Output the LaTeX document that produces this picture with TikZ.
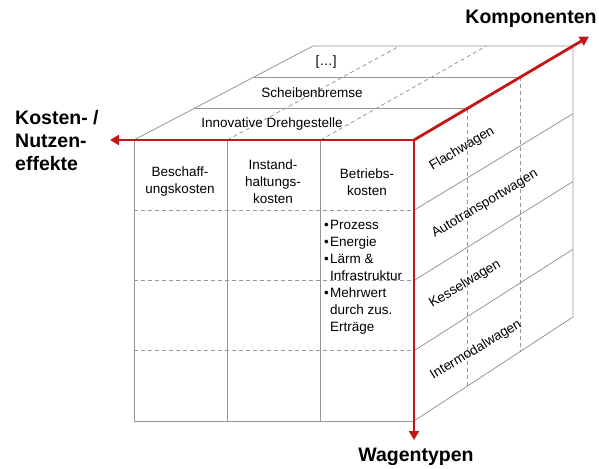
\documentclass[tikz,border=0pt]{standalone}
\usepackage{fontspec}
\setmainfont{Liberation Sans}
\usetikzlibrary{calc,arrows.meta}
\definecolor{achsrot}{RGB}{196,22,22}
\definecolor{kantengrau}{RGB}{150,150,150}
\tikzset{
  spitze/.tip={Triangle[length=9pt,width=10pt]},
  kante/.style={draw=kantengrau,line width=0.8pt},
  teil/.style={draw=kantengrau,line width=0.8pt,dash pattern=on 4pt off 3pt},
  achse/.style={draw=achsrot,line width=2.8pt},
  txt/.style={font=\fontsize{13.5}{17}\selectfont,inner sep=0pt},
  titel/.style={font=\bfseries\fontsize{19.5}{23}\selectfont,inner sep=0pt},
}
\begin{document}
\begin{tikzpicture}[x=1pt,y=-1pt]
\useasboundingbox (0,0) rectangle (599,468);
\coordinate (A) at (134,140);
\coordinate (B) at (414,140);
\coordinate (C) at (573,46);
\coordinate (D) at (313,46);
\coordinate (E) at (134,421);
\coordinate (F) at (414,421);
\coordinate (G) at (573,317);
\coordinate (links) at (110,140);
\coordinate (unten) at (414,440);
\coordinate (hinten) at ($(B)!1.1!(C)$);
% Deckflaeche
\draw[kante] (A)--(D)--(C)--(B)--cycle;
\foreach \t in {1/3,2/3}{
  \draw[kante] ($(A)!\t!(D)$)--($(B)!\t!(C)$);
  \draw[teil] ($(A)!\t!(B)$)--($(D)!\t!(C)$);
}
% Vorderseite
\draw[kante] (A)--(E)--(F)--(B);
\foreach \t in {1/3,2/3}
  \draw[kante] ($(A)!\t!(B)$)--($(E)!\t!(F)$);
\foreach \t in {1/4,2/4,3/4}
  \draw[teil] ($(A)!\t!(E)$)--($(B)!\t!(F)$);
% Seitenflaeche
\draw[kante] (C)--(G)--(F);
\foreach \t in {1/4,2/4,3/4}
  \draw[kante] ($(B)!\t!(F)$)--($(C)!\t!(G)$);
\foreach \t in {1/3,2/3}
  \draw[teil] ($(B)!\t!(C)$)--($(F)!\t!(G)$);
% Achsen
\draw[achse,spitze-spitze] (links)--(B)--(unten);
\draw[achse,-spitze] (B)--(hinten);
\node[titel] (komp) at (531,19) {Komponenten};
\node[titel] (wagen) at (416,457) {Wagentypen};
\node[titel,anchor=west,align=left] (kosten) at (15,141) {Kosten- /\\Nutzen-\\effekte};
% Texte
\node[txt] (innov) at (272,124) {Innovative Drehgestelle};
\node[txt] (scheibe) at (312,93) {Scheibenbremse};
\node[txt] (rest) at (326,62) {[\dots]};
\node[txt,align=center] (beschaff) at (180,182) {Beschaff-\\ungskosten};
\node[txt,align=center] (instand) at (273,182) {Instand-\\haltungs-\\kosten};
\node[txt,align=center] (betrieb) at (367,182) {Betriebs-\\kosten};
\node[txt,align=left,anchor=north west] (liste) at (324,220)
  {\makebox[6pt][l]{\textbullet}Prozess\\
   \makebox[6pt][l]{\textbullet}Energie\\
   \makebox[6pt][l]{\textbullet}L\"arm \&\\
   \hspace*{6pt}Infrastruktur\\
   \makebox[6pt][l]{\textbullet}Mehrwert\\
   \hspace*{6pt}durch zus.\\
   \hspace*{6pt}Ertr\"age};
\node[txt,rotate=31] (flach) at (462,149) {Flachwagen};
\node[txt,rotate=31] (auto) at (485,204) {Autotransportwagen};
\node[txt,rotate=31] (kessel) at (465,284) {Kesselwagen};
\node[txt,rotate=31] (inter) at (476,350) {Intermodalwagen};
\end{tikzpicture}
\end{document}
